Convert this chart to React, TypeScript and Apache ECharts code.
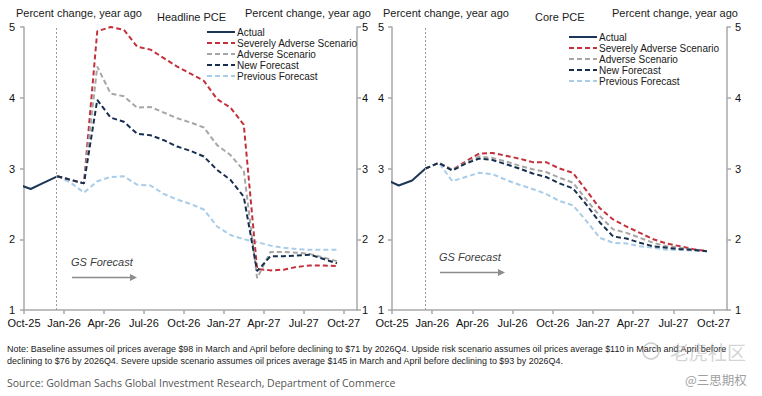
import React, { useEffect, useRef } from 'react';
import * as echarts from 'echarts';

// Monthly observations, mid-month, Sep-25 .. Sep-27
const months = [
  'Sep-25', 'Oct-25', 'Nov-25', 'Dec-25', 'Jan-26', 'Feb-26', 'Mar-26', 'Apr-26', 'May-26',
  'Jun-26', 'Jul-26', 'Aug-26', 'Sep-26', 'Oct-26', 'Nov-26', 'Dec-26', 'Jan-27', 'Feb-27',
  'Mar-27', 'Apr-27', 'May-27', 'Jun-27', 'Jul-27', 'Aug-27', 'Sep-27',
];
const quarterLabels = ['Oct-25', 'Jan-26', 'Apr-26', 'Jul-26', 'Oct-26', 'Jan-27', 'Apr-27', 'Jul-27', 'Oct-27'];
const yTicks = [1, 2, 3, 4, 5];

const seriesNames = ['Actual', 'Severely Adverse Scenario', 'Adverse Scenario', 'New Forecast', 'Previous Forecast'];

const N = null;
// Headline PCE
const headlineActual = [2.78, 2.71, 2.8, 2.89, N, N, N, N, N, N, N, N, N, N, N, N, N, N, N, N, N, N, N, N, N];
const headlineSevere = [N, N, N, 2.89, 2.84, 2.79, 4.94, 5.0, 4.96, 4.72, 4.68, 4.56, 4.44, 4.34, 4.24, 3.98, 3.86, 3.62, 1.58, 1.56, 1.57, 1.61, 1.63, 1.63, 1.62];
const headlineAdverse = [N, N, N, 2.89, 2.84, 2.79, 4.44, 4.06, 4.02, 3.86, 3.87, 3.79, 3.71, 3.65, 3.58, 3.33, 3.19, 2.97, 1.45, 1.82, 1.82, 1.81, 1.79, 1.74, 1.69];
const headlineNew = [N, N, N, 2.89, 2.84, 2.79, 3.97, 3.72, 3.66, 3.49, 3.47, 3.4, 3.31, 3.25, 3.17, 2.98, 2.84, 2.6, 1.55, 1.76, 1.76, 1.77, 1.78, 1.72, 1.66];
const headlinePrev = [N, N, N, 2.89, 2.8, 2.66, 2.82, 2.88, 2.89, 2.77, 2.76, 2.64, 2.56, 2.5, 2.42, 2.18, 2.06, 2.0, 1.96, 1.91, 1.88, 1.86, 1.85, 1.85, 1.85];

// Core PCE
const coreActual = [2.85, 2.76, 2.83, 3.0, N, N, N, N, N, N, N, N, N, N, N, N, N, N, N, N, N, N, N, N, N];
const coreSevere = [N, N, N, 3.0, 3.08, 2.98, 3.1, 3.21, 3.22, 3.18, 3.14, 3.09, 3.09, 3.0, 2.94, 2.69, 2.44, 2.28, 2.18, 2.09, 2.0, 1.94, 1.9, 1.86, 1.83];
const coreAdverse = [N, N, N, 3.0, 3.08, 2.98, 3.08, 3.17, 3.15, 3.1, 3.04, 2.99, 2.95, 2.87, 2.8, 2.56, 2.33, 2.14, 2.09, 2.02, 1.95, 1.9, 1.88, 1.85, 1.83];
const coreNew = [N, N, N, 3.0, 3.08, 2.97, 3.07, 3.14, 3.12, 3.06, 3.0, 2.93, 2.88, 2.79, 2.72, 2.49, 2.24, 2.04, 2.01, 1.95, 1.9, 1.88, 1.86, 1.85, 1.83];
const corePrev = [N, N, N, 3.0, 3.08, 2.82, 2.88, 2.94, 2.92, 2.84, 2.77, 2.71, 2.64, 2.54, 2.48, 2.26, 2.02, 1.95, 1.94, 1.9, 1.88, 1.85, 1.85, 1.84, 1.83];

const forecastStart = [2.4, 2.5]; // months after Oct-25 where GS forecast begins

const noteLine1 =
  'Note: Baseline assumes oil prices average $98 in March and April before declining to $71 by 2026Q4. Upside risk scenario assumes oil prices average $110 in March and April before';
const noteLine2 =
  'declining to $76 by 2026Q4. Severe upside scenario assumes oil prices average $145 in March and April before declining to $93 by 2026Q4.';
const sourceText = 'Source: Goldman Sachs Global Investment Research, Department of Commerce';

const FONT = '"Liberation Sans", Arial, sans-serif';
const AXIS = '#a9a9a9';
const COLORS: Record<string, string> = {
  'Actual': '#1d3557',
  'Severely Adverse Scenario': '#c3313c',
  'Adverse Scenario': '#a6a6a6',
  'New Forecast': '#172f4f',
  'Previous Forecast': '#a9cde9',
};

// month index -> position on the axis (0 = start of Oct-25), points at mid-month
const toPairs = (vals: (number | null)[]) =>
  vals.flatMap((v, i) => (v == null ? [] : [[i - 0.5, v]]));

function lineSeries(name: string, vals: (number | null)[], g: number, extra: any = {}) {
  const solid = name === 'Actual';
  return {
    type: 'line',
    name,
    xAxisIndex: g,
    yAxisIndex: g * 2,
    data: toPairs(vals),
    symbol: 'none',
    clip: true,
    lineStyle: { color: COLORS[name], width: 2, type: solid ? 'solid' : [5, 3] },
    itemStyle: { color: COLORS[name] },
    ...extra,
  };
}

function buildSeries(g: number, a: any[], s: any[], ad: any[], nw: any[], pv: any[]) {
  return [
    lineSeries('Previous Forecast', pv, g),
    lineSeries('Severely Adverse Scenario', s, g),
    lineSeries('Adverse Scenario', ad, g),
    lineSeries('New Forecast', nw, g),
    lineSeries('Actual', a, g, {
      markLine: {
        silent: true,
        symbol: 'none',
        label: { show: false },
        lineStyle: { color: '#9a9a9a', type: [2, 2], width: 1 },
        data: [{ xAxis: forecastStart[g] }],
      },
    }),
  ];
}

const grids = [
  { left: 24, top: 27, width: 333, height: 283 },
  { left: 392, top: 27, width: 335, height: 283 },
];

function xAxis(g: number) {
  return {
    type: 'value',
    gridIndex: g,
    min: 0,
    max: 25,
    interval: 3,
    axisLine: { show: true, lineStyle: { color: AXIS, width: 1.5 } },
    axisTick: { show: true, length: 4, lineStyle: { color: AXIS, width: 1.5 } },
    splitLine: { show: false },
    axisLabel: {
      color: '#111',
      fontSize: 11,
      fontFamily: FONT,
      margin: 7,
      showMaxLabel: false,
      formatter: (v: number) => (v % 3 === 0 ? quarterLabels[v / 3] ?? '' : ''),
    },
  };
}

function yAxis(g: number, pos: 'left' | 'right', margin: number) {
  return {
    type: 'value',
    gridIndex: g,
    position: pos,
    min: yTicks[0],
    max: yTicks[yTicks.length - 1],
    interval: 1,
    axisLine: { show: true, lineStyle: { color: AXIS, width: 1.5 } },
    axisTick: { show: true, length: 4, lineStyle: { color: AXIS, width: 1.5 } },
    splitLine: { show: false },
    axisLabel: { color: '#111', fontSize: 11, fontFamily: FONT, margin },
  };
}

function legend(left: number, top: number) {
  return {
    data: seriesNames,
    orient: 'vertical',
    left,
    top,
    padding: 0,
    itemWidth: 28,
    itemHeight: 8,
    itemGap: 1,
    selectedMode: false,
    itemStyle: { color: 'rgba(0,0,0,0)', borderWidth: 0, opacity: 0 },
    textStyle: { fontSize: 10, fontFamily: FONT, color: '#1a1a1a', lineHeight: 10, padding: [0, 0, 0, -3] },
  };
}

const txt = (x: number, y: number, text: string, font: string, fill = '#1a1a1a', align = 'left') => ({
  type: 'text',
  x,
  y,
  silent: true,
  style: { text, font, fill, align, verticalAlign: 'middle' },
});

function forecastMarker(x: number, y: number) {
  return [
    txt(x, y, 'GS Forecast', `italic 11px ${FONT}`, '#404040'),
    {
      type: 'line',
      silent: true,
      shape: { x1: x + 1, y1: y + 15.5, x2: x + 60, y2: y + 15.5 },
      style: { stroke: '#8c8c8c', lineWidth: 1.5 },
    },
    {
      type: 'polygon',
      silent: true,
      shape: { points: [[x + 59, y + 12], [x + 66, y + 15.5], [x + 59, y + 19]] },
      style: { fill: '#8c8c8c' },
    },
  ];
}

const F11 = `11px ${FONT}`;

const option: any = {
  animation: false,
  backgroundColor: '#ffffff',
  grid: grids,
  xAxis: [xAxis(0), xAxis(1)],
  yAxis: [yAxis(0, 'left', 9), yAxis(0, 'right', 5), yAxis(1, 'left', 8), yAxis(1, 'right', 8)],
  legend: [legend(206, 27), legend(568, 32)],
  series: [
    ...buildSeries(0, headlineActual, headlineSevere, headlineAdverse, headlineNew, headlinePrev),
    ...buildSeries(1, coreActual, coreSevere, coreAdverse, coreNew, corePrev),
  ],
  graphic: [
    txt(16, 13, 'Percent change, year ago', F11),
    txt(157, 17, 'Headline PCE', F11),
    txt(245, 13, 'Percent change, year ago', F11),
    txt(383, 13, 'Percent change, year ago', F11),
    txt(535, 17, 'Core PCE', F11),
    txt(612, 13, 'Percent change, year ago', F11),
    ...forecastMarker(71, 262),
    ...forecastMarker(439, 257),
    txt(7, 349, noteLine1, `8.95px ${FONT}`, '#1a1a1a'),
    txt(7, 361, noteLine2, `8.95px ${FONT}`, '#1a1a1a'),
    txt(7, 383, sourceText, `10.5px "Open Sans", "Noto Sans", sans-serif`, '#555555'),
    {
      type: 'circle',
      silent: true,
      shape: { cx: 651, cy: 351, r: 8 },
      style: { fill: 'none', stroke: 'rgba(170,170,170,0.6)', lineWidth: 1.5 },
    },
    txt(670, 351, '老虎社区', `19px "Noto Sans CJK SC", sans-serif`, 'rgba(175,175,175,0.55)'),
    txt(685, 379, '@三思期权', `12.5px "Noto Sans CJK SC", sans-serif`, '#a0a0a0'),
  ],
};

export default function App() {
  const ref = useRef<HTMLDivElement>(null);
  useEffect(() => {
    document.body.style.margin = '0';
    const chart = echarts.init(ref.current as HTMLDivElement, null, { renderer: 'svg' });
    chart.setOption(option);
    return () => chart.dispose();
  }, []);
  return <div ref={ref} style={{ width: 762, height: 396 }} />;
}
